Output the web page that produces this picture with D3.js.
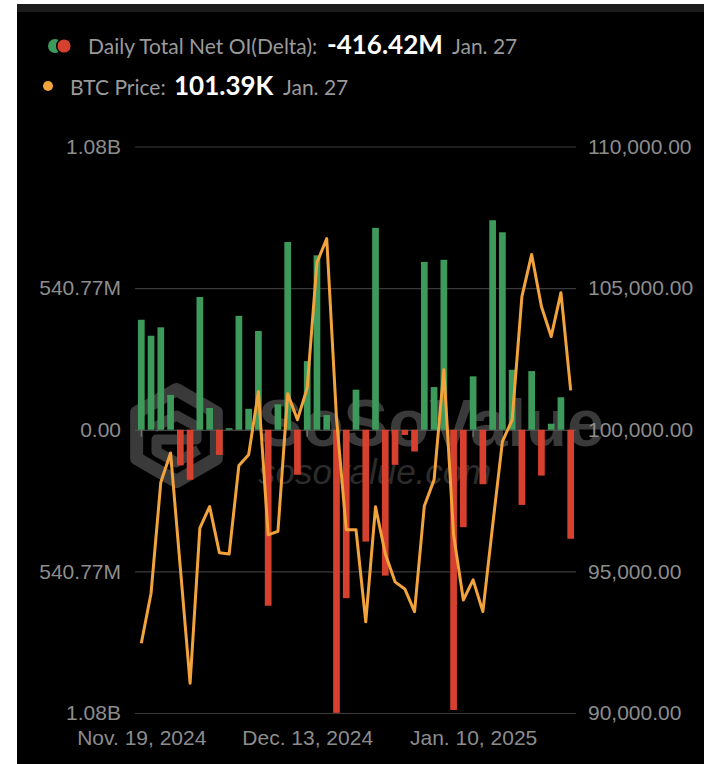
<!DOCTYPE html>
<html>
<head>
<meta charset="utf-8">
<script src="https://cdn.jsdelivr.net/npm/d3@7"></script>
<style>
  body { margin: 0; background: #fff; }
  .axis text { font-family: "Liberation Sans", Arial, sans-serif; font-size: 21px; fill: #8d8d8d; }
  .legend text { font-family: Lato, "Open Sans", sans-serif; }
</style>
</head>
<body>
<svg id="chart" width="704" height="764"></svg>
<script>
// trading days shown on the chart
const dates = [
  "2024-11-19","2024-11-20","2024-11-21","2024-11-22","2024-11-25","2024-11-26","2024-11-27","2024-11-29",
  "2024-12-02","2024-12-03","2024-12-04","2024-12-05","2024-12-06","2024-12-09","2024-12-10","2024-12-11",
  "2024-12-12","2024-12-13","2024-12-16","2024-12-17","2024-12-18","2024-12-19","2024-12-20","2024-12-23",
  "2024-12-24","2024-12-26","2024-12-27","2024-12-30","2024-12-31","2025-01-02","2025-01-03","2025-01-06",
  "2025-01-07","2025-01-08","2025-01-10","2025-01-13","2025-01-14","2025-01-15","2025-01-16","2025-01-17",
  "2025-01-21","2025-01-22","2025-01-23","2025-01-24","2025-01-27"
];

// daily total net OI (delta), in millions
const netOI = [
  420, 359, 391, 133, -136, -191, 507, 83, -96, 6,
  435, 80, 377, -672, 97, 717, -172, 262, 666, 56,
  -1081, -643, 153, -427, 771, -557, -134, -20, -83, 641,
  163, 649, -1070, -372, 204, -208, 800, 754, 229, -287,
  224, -175, 23, 124, -416.42
];

// BTC price
const btcPrice = [
  92460, 94230, 98150, 99180, 95120, 91050, 96530, 97290, 95660, 95610,
  98740, 99120, 101350, 96290, 96410, 101270, 100350, 101480, 105900, 106750,
  100420, 96470, 96470, 93220, 97280, 95620, 94630, 94380, 93580, 97310,
  98230, 102120, 96290, 93990, 94700, 93580, 96610, 99580, 100350, 104700,
  106190, 104350, 103290, 104840, 101390
];

const leftTicks = [-1081.54, -540.77, 0, 540.77, 1081.54];
const leftTickLabels = ["1.08B", "540.77M", "0.00", "540.77M", "1.08B"];
const rightTicks = [90000, 95000, 100000, 105000, 110000];
const tickDates = ["2024-11-19", "2024-12-13", "2025-01-10"];
const tickLabels = ["Nov. 19, 2024", "Dec. 13, 2024", "Jan. 10, 2025"];

const svg = d3.select("#chart");

// background: screenshot frame
svg.append("rect").attr("width", 704).attr("height", 764).attr("fill", "#fff");
svg.append("rect").attr("x", 17).attr("y", 4).attr("width", 687).attr("height", 760).attr("fill", "#000");
svg.append("rect").attr("x", 17).attr("y", 4).attr("width", 687).attr("height", 8).attr("fill", "#1c1c1c");

const plotL = 135, plotR = 576, plotT = 146.5, plotB = 713;

const x = d3.scalePoint().domain(dates).range([141.3, 570.7]);
const yL = d3.scaleLinear().domain([-1081.54, 1081.54]).range([plotB, plotT]);
const yR = d3.scaleLinear().domain([90000, 110000]).range([plotB, plotT]);

// watermark (behind everything)
const wm = svg.append("g");
const hx = 176.5, hy = 435.5, hr = 46;
const hex = d3.range(6).map(k => {
  const a = (-90 + 60 * k) * Math.PI / 180;
  return [hx + hr * Math.cos(a), hy + hr * Math.sin(a)];
});
wm.append("polygon").attr("points", hex.map(p => p.join(",")).join(" "))
  .attr("fill", "none").attr("stroke", "#3a3a3a").attr("stroke-width", 13).attr("stroke-linejoin", "round");
wm.append("path")
  .attr("d", `M${hx - 22},${hy - 8} L${hx},${hy - 20} L${hx + 20},${hy - 9} L${hx + 20},${hy + 4} L${hx - 20},${hy + 4} L${hx - 20},${hy + 16} L${hx},${hy + 27} L${hx + 22},${hy + 14}`)
  .attr("fill", "none").attr("stroke", "#3a3a3a").attr("stroke-width", 10).attr("stroke-linejoin", "round");
wm.append("text").attr("x", 258).attr("y", 446)
  .attr("font-family", "Liberation Sans, Arial, sans-serif").attr("font-weight", "bold")
  .attr("font-size", 67).attr("fill", "#3a3a3a").text("SoSoValue");
wm.append("text").attr("x", 258).attr("y", 484)
  .attr("font-family", "Liberation Sans, Arial, sans-serif").attr("font-style", "italic")
  .attr("font-size", 35).attr("fill", "#2c2c2c").text("sosovalue.com");

// grid + left labels
const gLeft = svg.append("g").attr("class", "axis")
  .attr("transform", `translate(${plotL},0)`)
  .call(d3.axisLeft(yL).tickValues(leftTicks)
    .tickFormat((d, i) => leftTickLabels[i])
    .tickSizeInner(-(plotR - plotL)).tickSizeOuter(0).tickPadding(14));
gLeft.select(".domain").remove();
gLeft.selectAll(".tick line").attr("stroke", (d) => d === 0 ? "#5a5a5a" : "#3a3a3a").attr("stroke-width", 1.2);

const gRight = svg.append("g").attr("class", "axis")
  .attr("transform", `translate(${plotR},0)`)
  .call(d3.axisRight(yR).tickValues(rightTicks)
    .tickFormat(d3.format(",.2f")).tickSize(0).tickPadding(12));
gRight.select(".domain").remove();

const gX = svg.append("g").attr("class", "axis")
  .attr("transform", `translate(0,${plotB})`)
  .call(d3.axisBottom(x).tickValues(tickDates)
    .tickFormat((d, i) => tickLabels[i]).tickSize(0).tickPadding(17));
gX.select(".domain").remove();

// x ticks on zero line
svg.append("g").selectAll("line").data(tickDates).join("line")
  .attr("x1", d => x(d)).attr("x2", d => x(d))
  .attr("y1", yL(0)).attr("y2", yL(0) + 7)
  .attr("stroke", "#777").attr("stroke-width", 1.2);

// bars
const barW = 6.7;
svg.append("g").selectAll("rect").data(netOI).join("rect")
  .attr("x", (d, i) => x(dates[i]) - barW / 2)
  .attr("width", barW)
  .attr("y", d => yL(Math.max(d, 0)))
  .attr("height", d => Math.abs(yL(d) - yL(0)))
  .attr("fill", d => d >= 0 ? "#3e9a5b" : "#d6402e");

// price line
const line = d3.line()
  .x((d, i) => x(dates[i]))
  .y(d => yR(d));
svg.append("path").datum(btcPrice)
  .attr("d", line)
  .attr("fill", "none")
  .attr("stroke", "#f2a33c")
  .attr("stroke-width", 3)
  .attr("stroke-linejoin", "round");

// legend
const lg = svg.append("g").attr("class", "legend");
lg.append("circle").attr("cx", 55).attr("cy", 46).attr("r", 7).attr("fill", "#3e9a5b");
lg.append("circle").attr("cx", 64).attr("cy", 46).attr("r", 7.3).attr("fill", "#d6402e")
  .attr("stroke", "#000").attr("stroke-width", 1.5);
lg.append("circle").attr("cx", 48).attr("cy", 86).attr("r", 5).attr("fill", "#f2a33c");

const lastOI = netOI[netOI.length - 1];
const lastPrice = btcPrice[btcPrice.length - 1];
const rows = [
  [{ x: 88, t: "Daily Total Net OI(Delta):", c: "#9a9a9a", s: 21, w: 400 },
   { x: 327, t: lastOI.toFixed(2) + "M", c: "#fff", s: 26, w: 700 },
   { x: 452, t: "Jan. 27", c: "#9a9a9a", s: 21, w: 400 }],
  [{ x: 70, t: "BTC Price:", c: "#9a9a9a", s: 21, w: 400 },
   { x: 174, t: (lastPrice / 1000).toFixed(2) + "K", c: "#fff", s: 26, w: 700 },
   { x: 283, t: "Jan. 27", c: "#9a9a9a", s: 21, w: 400 }]
];
rows.forEach((row, r) => {
  row.forEach(it => {
    lg.append("text").attr("x", it.x).attr("y", r === 0 ? 54 : 95)
      .attr("fill", it.c).attr("font-size", it.s).attr("font-weight", it.w)
      .text(it.t);
  });
});
</script>
</body>
</html>
